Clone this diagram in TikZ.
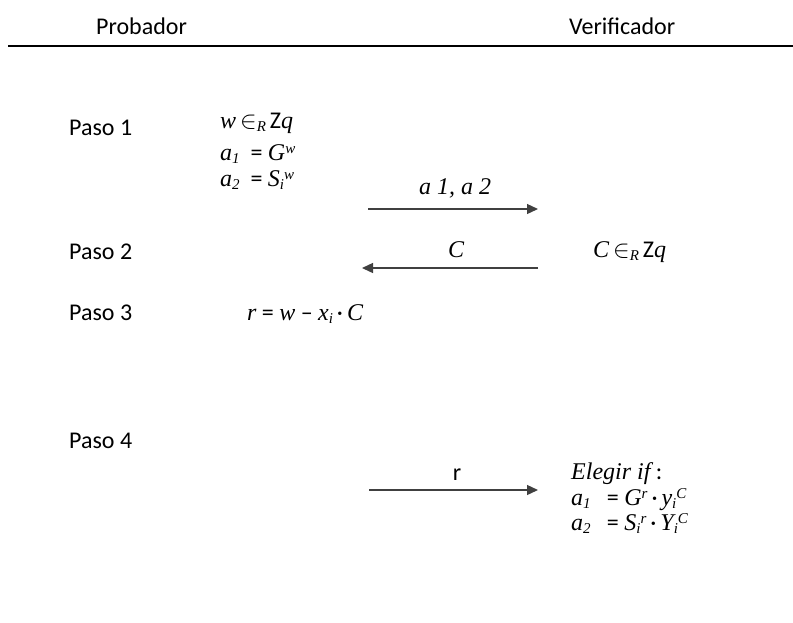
\documentclass[tikz,border=0pt]{standalone}
\usepackage{fontspec}
\setmainfont{Carlito}
\newfontfamily\cmb{Liberation Serif}
\usepackage{tikz}
\usetikzlibrary{arrows.meta}

\newcommand{\vv}[1]{{\cmb\itshape #1}}
\newcommand{\lo}[1]{\raisebox{-0.3ex}{\fontsize{15}{16}\selectfont\vv{#1}}}
\newcommand{\hi}[1]{\raisebox{0.6ex}{\fontsize{15}{16}\selectfont\vv{#1}}}

\tikzset{
  txt/.style={anchor=base west,inner sep=0pt,font=\fontsize{24}{28}\selectfont},
  lbl/.style={anchor=base,inner sep=0pt,font=\fontsize{24}{28}\selectfont},
  msg/.style={draw=black!75,line width=1.3pt,-{Triangle[length=11pt,width=10pt]}}
}

\begin{document}
\begin{tikzpicture}[x=1pt,y=-1pt]
\useasboundingbox (0,0) rectangle (793,622);

\node[txt] (prob) at (96,34) {Probador};
\node[txt] (verif) at (569,34) {Verificador};
\draw[line width=1.3pt] (8,46) -- (793,46);

%Paso 1
\node[txt] (paso1) at (69,135) {Paso 1};
\node[txt] (wsel) at (220,128) {\vv{w}\,$\in$\lo{R}\,Z\vv{q}};
\node[txt] (aone) at (220,160) {\vv{a}\lo{1}\ \ = \vv{G}\hi{w}};
\node[txt] (atwo) at (220,186) {\vv{a}\lo{2}\ \ = \vv{S}\lo{i}\hi{w}};

\coordinate (m1s) at (368,209);
\coordinate (m1e) at (538,209);
\draw[msg] (m1s) -- (m1e);
\node[lbl] (m1) at (455,194) {\vv{a 1, a 2}};

%Paso 2
\node[txt] (paso2) at (69,259) {Paso 2};
\coordinate (m2s) at (538,268);
\coordinate (m2e) at (362,268);
\draw[msg] (m2s) -- (m2e);
\node[lbl] (m2) at (456,257) {\vv{C}};
\node[txt] (csel) at (593,257) {\vv{C}\,$\in$\lo{R}\,Z\vv{q}};

%Paso 3
\node[txt] (paso3) at (69,320) {Paso 3};
\node[txt] (resp) at (247,320) {\vv{r} = \vv{w} -- \vv{x}\lo{i}\,·\,\vv{C}};

%Paso 4
\node[txt] (paso4) at (69,448) {Paso 4};
\coordinate (m3s) at (369,490);
\coordinate (m3e) at (538,490);
\draw[msg] (m3s) -- (m3e);
\node[lbl] (m3) at (457,480) {r};

\node[txt] (eleg) at (571,479) {\vv{Elegir if} :};
\node[txt] (chk1) at (571,505) {\vv{a}\lo{1}\ \ \ = \vv{G}\hi{r}\,·\,\vv{y}\lo{i}\hi{C}};
\node[txt] (chk2) at (571,530) {\vv{a}\lo{2}\ \ \ = \vv{S}\lo{i}\hi{r}\,·\,\vv{Y}\lo{i}\hi{C}};

\end{tikzpicture}
\end{document}
